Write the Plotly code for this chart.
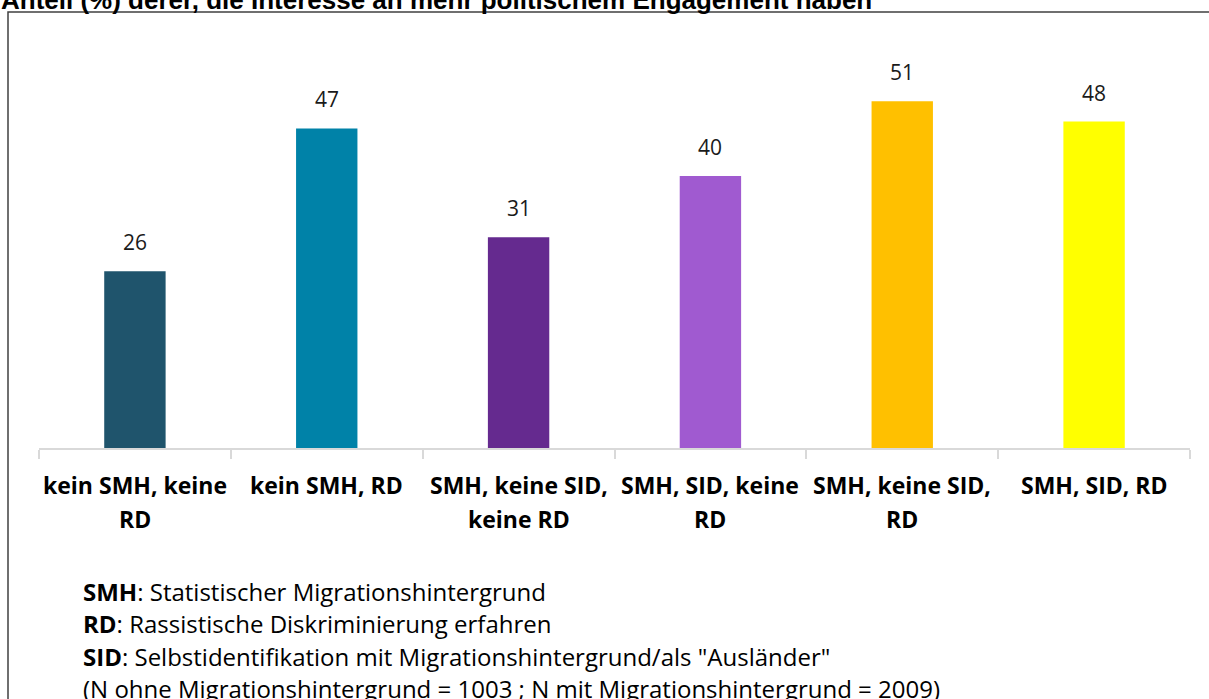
import plotly.graph_objects as go

# ---- data ----
categories = ["kein SMH, keine RD", "kein SMH, RD", "SMH, keine SID, keine RD",
              "SMH, SID, keine RD", "SMH, keine SID, RD", "SMH, SID, RD"]
label_lines = [["kein SMH, keine", "RD"], ["kein SMH, RD"], ["SMH, keine SID,", "keine RD"],
               ["SMH, SID, keine", "RD"], ["SMH, keine SID,", "RD"], ["SMH, SID, RD"]]
values = [26, 47, 31, 40, 51, 48]
colors = ["#1F546C", "#0082A8", "#652A8F", "#A05AD0", "#FFC000", "#FFFF00"]
title_text = "Anteil (%) derer, die Interesse an mehr politischem Engagement haben"
notes = [
    "<b>SMH</b>: Statistischer Migrationshintergrund",
    "<b>RD</b>: Rassistische Diskriminierung erfahren",
    "<b>SID</b>: Selbstidentifikation mit Migrationshintergrund/als \"Ausländer\"",
    "(N ohne Migrationshintergrund = 1003 ; N mit Migrationshintergrund = 2009)",
]

W, H = 1209, 699
ML, MR, MT, MB = 39, 19, 40, 251
PW = W - ML - MR
PH = H - MT - MB

def px_x(px):
    return (px - ML) / PW

def px_y(py):
    return (H - MB - py) / PH

FONT = "Open Sans"

fig = go.Figure()
fig.add_trace(go.Bar(
    x=categories, y=values, marker=dict(color=colors, line=dict(width=0)),
    width=0.32, hoverinfo="x+y",
))

annotations = []
# data labels
for c, v in zip(categories, values):
    annotations.append(dict(x=c, y=v, xref="x", yref="y", text=str(v), showarrow=False,
                            yanchor="bottom", yshift=13,
                            font=dict(family=FONT, size=21, color="#1a1a1a")))
# category labels (separate lines to match spacing)
for c, lines in zip(categories, label_lines):
    for i, ln in enumerate(lines):
        annotations.append(dict(x=c, y=px_y(485 + 34 * i), xref="x", yref="paper",
                                text="<b>" + ln + "</b>", showarrow=False,
                                yanchor="middle", xanchor="center",
                                font=dict(family=FONT, size=23, color="#000000")))
# notes
for i, n in enumerate(notes):
    annotations.append(dict(x=px_x(81), y=px_y(591 + 32.5 * i), xref="paper", yref="paper",
                            text=n, showarrow=False, xanchor="left", yanchor="middle",
                            font=dict(family=FONT, size=24, color="#000000")))
# title (clipped at top)
annotations.append(dict(x=px_x(-1), y=px_y(0), xref="paper", yref="paper",
                        text="<b>" + title_text + "</b>", showarrow=False,
                        xanchor="left", yanchor="middle",
                        font=dict(family="Liberation Sans", size=26, color="#000000")))

fig.update_layout(
    width=W, height=H,
    margin=dict(l=ML, r=MR, t=MT, b=MB),
    paper_bgcolor="white", plot_bgcolor="white",
    showlegend=False,
    annotations=annotations,
    shapes=[dict(type="rect", xref="paper", yref="paper",
                 x0=px_x(8), x1=px_x(1230), y0=px_y(720), y1=px_y(12),
                 line=dict(color="#404040", width=1.5), fillcolor="rgba(0,0,0,0)",
                 layer="below")],
    xaxis=dict(showticklabels=False, showline=True, linecolor="#D9D9D9", linewidth=1.5,
               ticks="outside", tickson="boundaries", ticklen=9, tickcolor="#D9D9D9",
               tickwidth=1.5, showgrid=False, zeroline=False),
    yaxis=dict(range=[0, 60], visible=False, showgrid=False, zeroline=False),
)

fig.write_html("out.html", config={"displayModeBar": False},
               post_script="document.body.style.margin='0';")
